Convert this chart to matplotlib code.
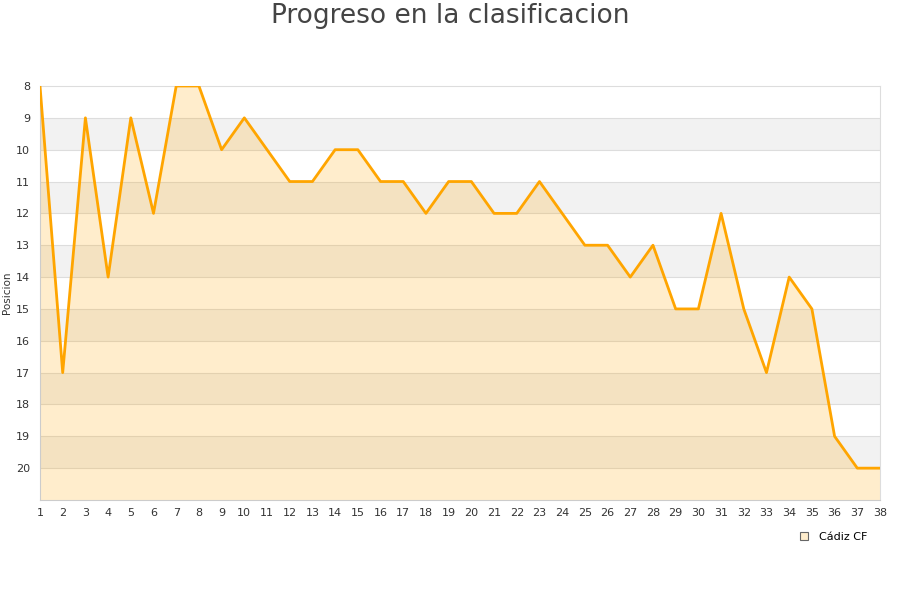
import matplotlib
matplotlib.use("Agg")
import matplotlib.pyplot as plt
from matplotlib.lines import Line2D

jornadas = list(range(1, 39))
posiciones = [8, 17, 9, 14, 9, 12, 8, 8, 10, 9, 10, 11, 11, 10, 10, 11, 11, 12, 11, 11,
              12, 12, 11, 12, 13, 13, 14, 13, 15, 15, 12, 15, 17, 14, 15, 19, 20, 20]
y_ticks = list(range(8, 21))
team = "Cádiz CF"
title = "Progreso en la clasificacion"
ylabel = "Posicion"

fig = plt.figure(figsize=(9, 6), dpi=100)
ax = fig.add_axes([40/900, 1-500/600, 840/900, 414/600])

ymin, ymax = 8, 21
for k in range(ymin, ymax):
    if (k - ymin) % 2 == 1:
        ax.axhspan(k, k+1, color="#F2F2F2", zorder=0, lw=0)
for k in range(ymin+1, ymax):
    ax.axhline(k, color="#DDDDDD", lw=0.8, zorder=1)

ax.fill_between(jornadas, posiciones, ymax, color="#FFA500", alpha=0.2, lw=0, zorder=2)
ax.plot(jornadas, posiciones, color="#FFA500", lw=2, zorder=3)

ax.set_xlim(1, 38)
ax.set_ylim(ymax, ymin)
ax.set_xticks(jornadas)
ax.set_yticks(y_ticks)
ax.tick_params(axis="both", length=0, labelsize=8, colors="#333333")
ax.tick_params(axis="x", pad=6)
ax.tick_params(axis="y", pad=7)
for s in ["top", "right"]:
    ax.spines[s].set_color("#DDDDDD")
for s in ["left", "bottom"]:
    ax.spines[s].set_color("#CCCCCC")
ax.set_ylabel(ylabel, fontsize=7.5, color="#333333", labelpad=3)

fig.text(0.5, 1-16/600, title, ha="center", va="center", fontsize=19, color="#444444")

handle = Line2D([], [], marker="s", ls="none", markersize=6, markerfacecolor="#FFEDCC",
                markeredgecolor="#666666", markeredgewidth=0.8)
fig.legend([handle], [team], loc="center", bbox_to_anchor=(830/900, 1-537/600), frameon=False,
           fontsize=8, handletextpad=0.3)

fig.savefig("out.png", dpi=100)
